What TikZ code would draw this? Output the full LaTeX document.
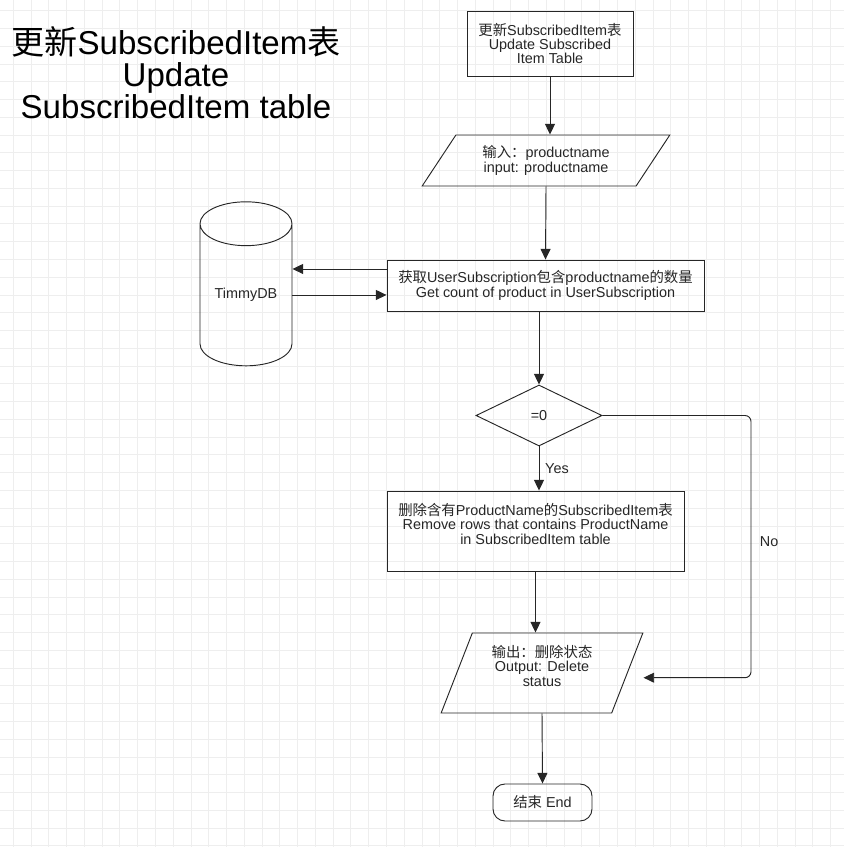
\documentclass[tikz,border=0pt]{standalone}
\usepackage{fontspec}
\setmainfont{Liberation Sans}
\newfontfamily\cjk{Noto Sans CJK SC}
\newcommand{\zh}[1]{{\cjk #1}}
\usetikzlibrary{arrows.meta, positioning, shapes}

\tikzset{
  gridline/.style={draw=gray!13, line width=0.75pt},
}

\begin{document}
\begin{tikzpicture}[
  x=0.75pt, y=-0.75pt,
  font=\fontsize{10.8}{10.7}\selectfont,
  line width=0.7pt,
  draw=black!85, text=black!85,
  every node/.style={align=center},
  >={Triangle[length=8pt, width=7.5pt]},
  block/.style={draw, inner sep=0pt},
  io/.style={draw, trapezium, trapezium stretches=true, inner sep=0pt},
  decision/.style={draw, diamond, inner sep=0pt},
  terminal/.style={draw, rounded corners=9pt, inner sep=0pt},
  database/.style={draw, cylinder, shape border rotate=90, inner sep=0pt},
]

\useasboundingbox (0,0) rectangle (844,847);

% background grid
\begin{scope}
\clip (0,0) rectangle (844,847);
\foreach \i in {0,...,47} \draw[gridline] ({13.3+\i*17.77},0) -- ++(0,847);
\foreach \j in {0,...,47} \draw[gridline] (0,{10.7+\j*17.77}) -- ++(844,0);
\end{scope}

% title
\node [font=\fontsize{24.8}{24}\selectfont, text=black] (title) at (176,73)
  {\zh{更新}SubscribedItem\zh{表} \\ Update \\ SubscribedItem table};

% main column
\node [block, minimum width=124.5pt, minimum height=48.75pt] (start) at (550,43.5)
  {\zh{更新}SubscribedItem\zh{表} \\ Update Subscribed \\ Item Table};
\node [io, trapezium left angle=51, trapezium right angle=129,
       minimum width=186pt, minimum height=38.25pt] (input) at (546,160.5)
  {\zh{输入：}productname \\ input: productname};
\node [block, minimum width=237.75pt, minimum height=38.25pt] (count) at (545.5,285.5)
  {\zh{获取}UserSubscription\zh{包含}productname\zh{的数量} \\ Get count of product in UserSubscription};
\node [database, minimum width=69pt, minimum height=123pt, aspect=0.7] (db) at (246,295) {TimmyDB};

\draw[->] (start.south) -- (start.south |- input.north);
\draw[->] (input.south) -- (count.north);
\draw[->] ([yshift=12.4pt]count.west) -- ([yshift=12.4pt]count.west -| db.east);
\draw[->] ([yshift=-7.1pt]count.west -| db.east) -- ([yshift=-7.1pt]count.west);

% decision
\node [decision, minimum width=94.5pt, minimum height=45.75pt] (cond) at (539,415.5) {=0};
\node [block, minimum width=222.75pt, minimum height=60pt] (remove) at (535.5,531)
  {\zh{删除含有}ProductName\zh{的}SubscribedItem\zh{表} \\ Remove rows that contains ProductName \\ in SubscribedItem table \\ ~};
\node [io, trapezium left angle=67.7, trapezium right angle=112.3,
       minimum width=151.5pt, minimum height=60pt] (output) at (542,673)
  {\zh{输出：删除状态} \\ Output: Delete \\ status \\ ~};
\node [terminal, minimum width=74.25pt, minimum height=27.75pt] (finish) at (542.5,802.5) {\zh{结束} End};

\coordinate (noturn) at (751,677.7);
\coordinate (noin) at (output.top right corner |- noturn);

\draw[->] (cond.north |- count.south) -- (cond.north);
\draw[->] (cond.south) -- node[right=1pt] {Yes} (cond.south |- remove.north);
\draw[->, rounded corners=4.5pt] (cond.east) -| (noturn) node[pos=0.74, right=3pt] {No} -- (noin);
\draw[->] (remove.south) -- (remove.south |- output.north);
\draw[->] (output.south) -- (finish.north);

\end{tikzpicture}
\end{document}
